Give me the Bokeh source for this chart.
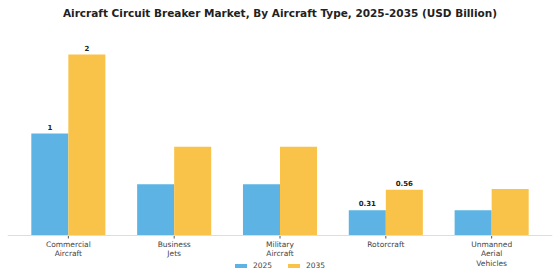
import math
from bokeh.plotting import figure
from bokeh.models import ColumnDataSource, FactorRange, Range1d, Legend, LegendItem, Span, Label
from bokeh.transform import dodge
from bokeh.core.properties import value
from bokeh.embed import file_html
from bokeh.resources import INLINE

title_text = "Aircraft Circuit Breaker Market, By Aircraft Type, 2025-2035 (USD Billion)"
categories = ["Commercial\nAircraft", "Business\nJets", "Military\nAircraft", "Rotorcraft", "Unmanned\nAerial\nVehicles"]
values_2025 = [1.25, 0.63, 0.63, 0.31, 0.31]
values_2035 = [2.22, 1.09, 1.09, 0.56, 0.57]
labels_2025 = ["1", "", "", "0.31", ""]
labels_2035 = ["2", "", "", "0.56", ""]

src = ColumnDataSource(dict(cat=categories, v25=values_2025, v35=values_2035,
                            l25=labels_2025, l35=labels_2035,
                            zero=[0] * len(categories)))

FONT = "DejaVu Sans"
BLUE = "#5DB4E4"
YELLOW = "#F8C348"

p = figure(frame_width=545, frame_height=280, output_backend="svg", toolbar_location=None,
           x_range=FactorRange(factors=categories, range_padding=0.075, range_padding_units="absolute"),
           y_range=Range1d(-0.552, 2.883),
           min_border_left=7, min_border_right=8, min_border_top=0, min_border_bottom=0)

r1 = p.vbar(x=dodge("cat", -0.175, range=p.x_range), top="v25", width=0.35, source=src,
            fill_color=BLUE, line_color=None)
r2 = p.vbar(x=dodge("cat", 0.175, range=p.x_range), top="v35", width=0.35, source=src,
            fill_color=YELLOW, line_color=None)

for col, lab, off in (("v25", "l25", -0.175), ("v35", "l35", 0.175)):
    p.text(x=dodge("cat", off, range=p.x_range), y=col, text=lab, source=src,
           text_font=value(FONT), text_font_size="7px", text_font_style="bold",
           text_align="center", text_baseline="bottom", y_offset=-4, text_color="#222222")

# baseline axis drawn inside the frame
p.add_layout(Span(location=0, dimension="width", line_color="#dddddd", line_width=1))
p.ray(x="cat", y="zero", length=3, length_units="screen", angle=-math.pi / 2,
      source=src, line_color="#555555", line_width=1)
p.text(x="cat", y="zero", text="cat", source=src, y_offset=4,
       text_font=value(FONT), text_font_size="7.5px", text_color="#444444",
       text_align="center", text_baseline="top", text_line_height=1.07)

# title, centred over the middle of the chart
p.add_layout(Label(x=2.5, y=2.73, text=title_text, text_font=FONT, text_font_size="10.5px",
                   text_font_style="bold", text_color="#222222",
                   text_align="center", text_baseline="middle"))

p.xaxis.visible = False
p.yaxis.visible = False
p.xgrid.visible = False
p.ygrid.visible = False
p.outline_line_color = None

legend = Legend(items=[LegendItem(label="2025", renderers=[r1]),
                       LegendItem(label="2035", renderers=[r2])],
                orientation="horizontal", location=(226, 10),
                glyph_width=15, glyph_height=5, label_height=8,
                label_text_font=FONT, label_text_font_size="7.5px", label_text_color="#444444",
                padding=1, margin=0, spacing=13, label_standoff=5,
                border_line_color=None, background_fill_alpha=0)
p.add_layout(legend, "center")

open("out.html", "w").write(file_html(p, INLINE))
